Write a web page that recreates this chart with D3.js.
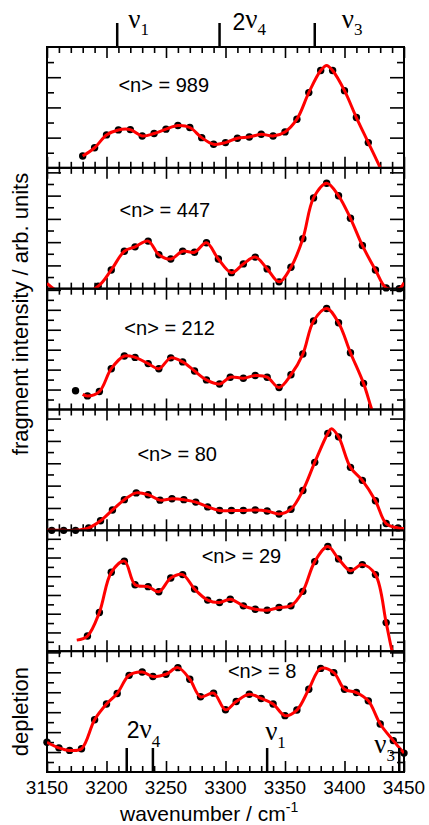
<!DOCTYPE html>
<html>
<head>
<meta charset="utf-8">
<script src="https://cdn.jsdelivr.net/npm/d3@7"></script>
<style>
  body { margin: 0; background: #fff; }
  text { font-family: "Liberation Sans", Arial, sans-serif; fill: #000; }
  .greek { font-family: "Liberation Serif", "Times New Roman", serif; }
</style>
</head>
<body>
<svg id="chart" width="429" height="825"></svg>
<script>
// ---- data (wavenumber in cm^-1, intensity in arb. units per panel) ----
var wavenumberTicks = [3150, 3200, 3250, 3300, 3350, 3400, 3450];
var clusterLabels = ['<n> = 989', '<n> = 447', '<n> = 212', '<n> = 80', '<n> = 29', '<n> = 8'];

var x989 = [3180, 3190, 3200, 3210, 3220, 3230, 3240, 3250, 3260, 3270, 3280, 3290, 3300,
  3310, 3320, 3330, 3340, 3350, 3360, 3370, 3380, 3390, 3400, 3410, 3420];
var y989 = [0.78, 1.33, 2.18, 2.51, 2.53, 2.11, 2.27, 2.56, 2.8, 2.67, 2.0, 1.56, 1.67,
  1.96, 2.04, 2.22, 2.11, 2.38, 3.22, 4.98, 6.44, 6.44, 5.11, 3.33, 1.67];
var fit989 = [[3385, 6.78], [3430, 0], [3434, -0.8]];

var x447 = [3193, 3204, 3215, 3224, 3235, 3244, 3254, 3264, 3274, 3284, 3294, 3305, 3315,
  3325, 3335, 3345, 3355, 3365, 3374, 3385, 3395, 3405, 3415, 3426, 3435, 3446];
var y447 = [0.16, 1.24, 2.48, 2.77, 3.15, 2.25, 1.96, 2.48, 2.41, 3.04, 1.96, 1.06, 1.64,
  2.09, 1.31, 0.45, 1.42, 3.31, 6.01, 6.98, 6.15, 4.66, 2.86, 1.24, 0.05, 0];
var fit447 = [[3150, 0.35], [3170, -0.6], [3450, 0.4]];

var x212 = [3174, 3184, 3194, 3204, 3215, 3224, 3235, 3244, 3254, 3264, 3274, 3284, 3295,
  3304, 3315, 3325, 3335, 3345, 3355, 3365, 3374, 3385, 3395, 3405, 3416];
var y212 = [1.24, 0.9, 1.19, 2.7, 3.54, 3.45, 3.04, 2.7, 3.42, 3.15, 2.55, 1.96, 1.69,
  2.14, 2.07, 2.25, 2.14, 1.46, 2.3, 3.67, 5.86, 6.69, 5.74, 3.76, 1.73];
var fit212 = [[3180, 1.0], [3423, 0], [3427, -0.8]];

var x80 = [3154, 3164, 3174, 3185, 3195, 3205, 3215, 3225, 3235, 3245, 3255, 3265, 3275,
  3285, 3295, 3305, 3315, 3325, 3335, 3345, 3355, 3365, 3375, 3386, 3395, 3405, 3415,
  3426, 3435, 3445];
var y80 = [0, 0, 0, 0.16, 0.63, 1.35, 2.03, 2.48, 2.36, 2.0, 2.09, 2.03, 1.87,
  1.55, 1.31, 1.31, 1.31, 1.35, 1.28, 1.08, 1.4, 2.64, 4.5, 6.42, 6.19, 4.17, 3.31,
  1.96, 0.45, 0.16];
var fit80 = [[3150, 0], [3389, 6.72], [3450, 0.12]];

var x29 = [3184, 3194, 3204, 3215, 3224, 3235, 3244, 3254, 3264, 3274, 3285, 3295, 3304,
  3315, 3325, 3335, 3345, 3355, 3365, 3375, 3386, 3395, 3405, 3415, 3426, 3435];
var y29 = [1.0, 2.56, 5.22, 5.96, 4.4, 4.27, 3.93, 4.84, 5.07, 4.11, 3.38, 3.22, 3.44,
  3.0, 2.78, 2.71, 2.89, 3.0, 3.96, 5.93, 6.93, 6.11, 5.33, 5.73, 5.07, 1.89];
var fit29 = [[3175, 0.73], [3440, 0], [3443, -0.8]];

var x8 = [3150, 3160, 3169, 3179, 3190, 3200, 3209, 3219, 3230, 3239, 3250, 3260, 3270,
  3279, 3290, 3300, 3309, 3320, 3330, 3340, 3350, 3360, 3370, 3380, 3391, 3400, 3410,
  3420, 3430, 3441, 3450];
var y8 = [1.97, 1.6, 1.43, 1.54, 3.46, 4.5, 5.2, 6.4, 6.62, 6.32, 6.47, 6.91, 6.14,
  4.98, 5.22, 4.12, 4.67, 5.15, 4.87, 4.5, 3.73, 4.1, 5.48, 6.86, 6.58, 5.48, 5.26,
  4.71, 3.18, 2.08, 1.25];
var fit8 = [];

// calculated band positions
var topBands = [3209, 3295, 3375];
var topBandNames = [['', '1'], ['2', '4'], ['', '3']];
var bottomBands = [3217, 3239, 3335, 3446];

// ---- layout ----
var margin = {top: 47, left: 47, right: 25, bottom: 53},
  W = 429, H = 825,
  width = W - margin.left - margin.right,
  panelH = (H - margin.top - margin.bottom) / 6;

var series = [
  {xs: x989, ys: y989, fit: fit989, from: 3180, step: 1.0, at: [3210, 5.0]},
  {xs: x447, ys: y447, fit: fit447, from: 3150, step: 0.77, at: [3211, 4.73]},
  {xs: x212, ys: y212, fit: fit212, from: 3178, step: 0.66, at: [3215, 4.9]},
  {xs: x80, ys: y80, fit: fit80, from: 3150, step: 0.74, at: [3226, 4.57]},
  {xs: x29, ys: y29, fit: fit29, from: 3150, step: 0.62, at: [3280, 5.87]},
  {xs: x8, ys: y8, fit: fit8, from: 3150, step: 0.66, at: [3302, 6.2]}
];

var svg = d3.select('#chart');
var xScale = d3.scaleLinear().domain([3150, 3450]).range([margin.left, margin.left + width]);
var minorX = d3.range(3150, 3451, 10).filter(v => v % 50 !== 0);

var line = d3.line()
  .x(d => xScale(d[0]))
  .y(d => d.y)
  .curve(d3.curveCatmullRom.alpha(0.5));

series.forEach(function(s, i) {
  var top = margin.top + i * panelH,
    bottom = top + panelH,
    yScale = d3.scaleLinear().domain([0, 8]).range([bottom, top]),
    g = svg.append('g').attr('class', 'panel');

  g.append('clipPath').attr('id', 'clip' + i)
    .append('rect').attr('x', margin.left).attr('y', top).attr('width', width).attr('height', panelH);

  // x ticks, top and bottom, pointing inward
  [[d3.axisBottom, top], [d3.axisTop, bottom]].forEach(function(a) {
    g.append('g').attr('transform', 'translate(0,' + a[1] + ')')
      .call(a[0](xScale).tickValues(minorX).tickSize(6).tickFormat(''));
    g.append('g').attr('transform', 'translate(0,' + a[1] + ')')
      .call(a[0](xScale).tickValues(wavenumberTicks).tickSize(11).tickFormat(''));
  });

  // y ticks, left and right, every step; long on even ones
  var yv = d3.range(1, Math.floor(7.95 / s.step) + 1).map(k => k * s.step);
  [[d3.axisRight, margin.left], [d3.axisLeft, margin.left + width]].forEach(function(a) {
    g.append('g').attr('transform', 'translate(' + a[1] + ',0)')
      .call(a[0](yScale).tickValues(yv.filter((v, k) => k % 2 === 0)).tickSize(7).tickFormat(''));
    g.append('g').attr('transform', 'translate(' + a[1] + ',0)')
      .call(a[0](yScale).tickValues(yv.filter((v, k) => k % 2 === 1)).tickSize(14).tickFormat(''));
  });

  g.selectAll('.domain').remove();
  g.selectAll('.tick line').attr('stroke', '#000').attr('stroke-width', 1.6);

  g.append('rect')
    .attr('x', margin.left).attr('y', top)
    .attr('width', width).attr('height', panelH)
    .attr('fill', 'none').attr('stroke', '#000').attr('stroke-width', 2);

  var pts = s.xs.map((x, k) => [x, s.ys[k]]);

  g.append('g').selectAll('circle')
    .data(pts)
    .enter().append('circle')
    .attr('cx', d => xScale(d[0]))
    .attr('cy', d => yScale(d[1]))
    .attr('r', 3.7)
    .attr('fill', '#000');

  var fitPts = pts.filter(d => d[0] >= s.from).concat(s.fit)
    .sort((a, b) => a[0] - b[0])
    .map(d => { var p = [d[0], d[1]]; p.y = yScale(d[1]); return p; });

  g.append('path')
    .datum(fitPts)
    .attr('clip-path', 'url(#clip' + i + ')')
    .attr('d', line)
    .attr('fill', 'none')
    .attr('stroke', '#f00')
    .attr('stroke-width', 3)
    .attr('stroke-linejoin', 'round');

  g.append('text')
    .attr('x', xScale(s.at[0]))
    .attr('y', yScale(s.at[1]))
    .attr('font-size', '20px')
    .text(clusterLabels[i]);
});

var plotBottom = margin.top + 6 * panelH;

// x tick labels
svg.append('g').selectAll('text')
  .data(wavenumberTicks)
  .enter().append('text')
  .attr('x', d => xScale(d))
  .attr('y', 794)
  .attr('text-anchor', 'middle')
  .attr('font-size', '19px')
  .text(d => d);

// band markers above the top panel
svg.append('g').selectAll('line')
  .data(topBands)
  .enter().append('line')
  .attr('x1', d => xScale(d)).attr('x2', d => xScale(d))
  .attr('y1', 23).attr('y2', margin.top)
  .attr('stroke', '#000').attr('stroke-width', 2.5);

var topDx = [11, 13, 27];
topBands.forEach(function(b, i) {
  var t = svg.append('text').attr('x', xScale(b) + topDx[i]).attr('y', 28);
  if (topBandNames[i][0]) t.append('tspan').attr('font-size', '23px').attr('dy', 2).text(topBandNames[i][0]);
  t.append('tspan').attr('class', 'greek').attr('font-size', '27px').attr('dy', topBandNames[i][0] ? -2 : 0).text('ν');
  t.append('tspan').attr('class', 'greek').attr('font-size', '17px').attr('dy', 7).text(topBandNames[i][1]);
});

// band markers inside the bottom panel
svg.append('g').selectAll('line')
  .data(bottomBands)
  .enter().append('line')
  .attr('x1', d => xScale(d)).attr('x2', d => xScale(d))
  .attr('y1', plotBottom - 24).attr('y2', plotBottom)
  .attr('stroke', '#000').attr('stroke-width', 2.5);

var b1 = svg.append('text').attr('x', xScale(bottomBands[0])).attr('y', 738);
b1.append('tspan').attr('font-size', '23px').text('2');
b1.append('tspan').attr('class', 'greek').attr('font-size', '27px').text('ν');
b1.append('tspan').attr('class', 'greek').attr('font-size', '17px').attr('dy', 9).text('4');

var b2 = svg.append('text').attr('x', xScale(bottomBands[2]) - 2).attr('y', 740);
b2.append('tspan').attr('class', 'greek').attr('font-size', '27px').text('ν');
b2.append('tspan').attr('class', 'greek').attr('font-size', '17px').attr('dy', 8).text('1');

var b3 = svg.append('text').attr('x', xScale(bottomBands[3]) - 25).attr('y', 753);
b3.append('tspan').attr('class', 'greek').attr('font-size', '27px').text('ν');
b3.append('tspan').attr('class', 'greek').attr('font-size', '17px').attr('dy', 8).text('3');

// axis titles
var xt = svg.append('text').attr('x', 120).attr('y', 821).attr('font-size', '21px');
xt.append('tspan').text('wavenumber / cm');
xt.append('tspan').attr('font-size', '14px').attr('dy', -9).text('-1');

svg.append('text')
  .attr('transform', 'translate(28,314) rotate(-90)')
  .attr('text-anchor', 'middle')
  .attr('font-size', '22px')
  .text('fragment intensity / arb. units');

svg.append('text')
  .attr('transform', 'translate(28,' + (plotBottom - panelH / 2) + ') rotate(-90)')
  .attr('text-anchor', 'middle')
  .attr('font-size', '22px')
  .text('depletion');
</script>
</body>
</html>
